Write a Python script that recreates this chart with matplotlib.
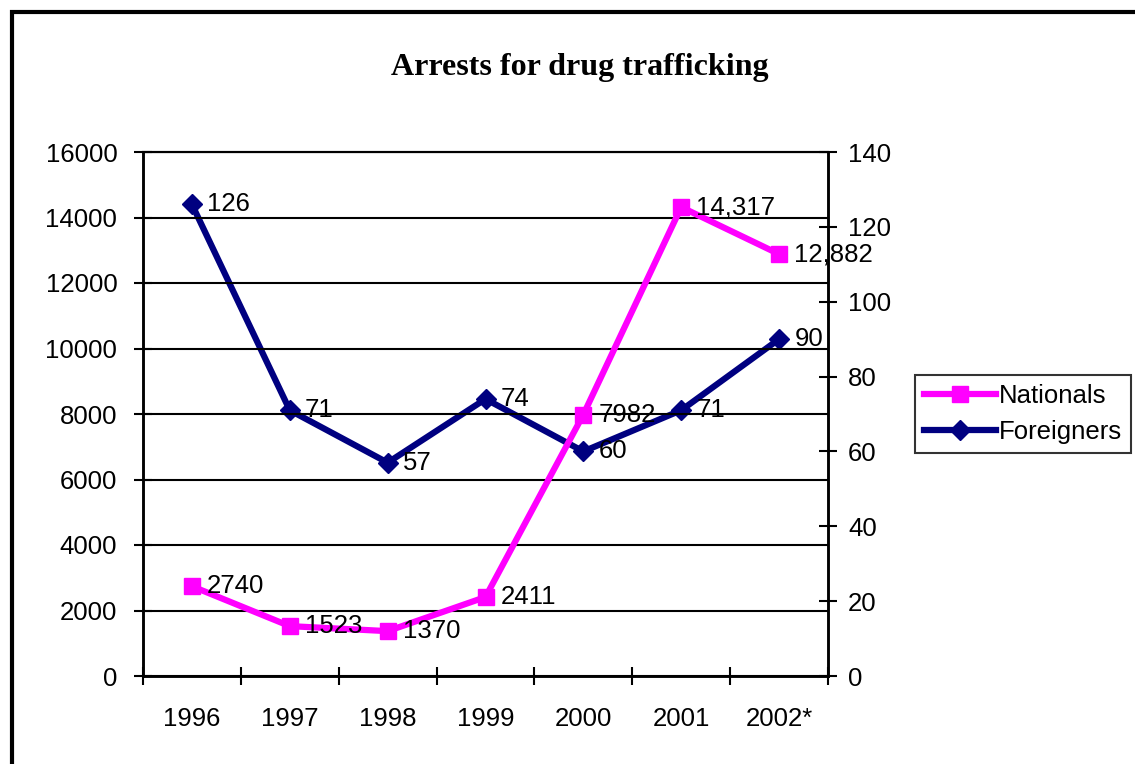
"""Arrests for drug trafficking: nationals (left axis) vs foreigners (right axis)."""
import matplotlib
matplotlib.use("Agg")
import matplotlib.pyplot as plt
from matplotlib.patches import Rectangle

plt.rcParams["font.family"] = ["Liberation Sans", "DejaVu Sans"]

years = ["1996", "1997", "1998", "1999", "2000", "2001", "2002*"]
nationals = [2740, 1523, 1370, 2411, 7982, 14317, 12882]
nationals_lbl = ["2740", "1523", "1370", "2411", "7982", "14,317", "12,882"]
foreigners = [126, 71, 57, 74, 60, 71, 90]

PINK = "#FF00FF"
NAVY = "#000080"
FS = 18.5

fig = plt.figure(figsize=(11.35, 7.64), dpi=100)
ax = fig.add_axes([143 / 1135, 88 / 764, 685 / 1135, 524 / 764])
ax2 = ax.twinx()

x = list(range(len(years)))

ln1, = ax.plot(x, nationals, color=PINK, lw=4.5, marker="s", ms=12,
               mec=PINK, mfc=PINK, zorder=3, label="Nationals")
ln2, = ax2.plot(x, foreigners, color=NAVY, lw=4.5, marker="D", ms=10.5,
                mec=NAVY, mfc=NAVY, zorder=3, label="Foreigners")

for xi, v, s in zip(x, nationals, nationals_lbl):
    ax.annotate(s, (xi, v), xytext=(11, 0), textcoords="offset points",
                ha="left", va="center", fontsize=FS, zorder=5)
for xi, v in zip(x, foreigners):
    ax2.annotate(str(v), (xi, v), xytext=(11, 0), textcoords="offset points",
                 ha="left", va="center", fontsize=FS, zorder=5)

ax.set_xlim(-0.5, len(years) - 0.5)
ax.set_ylim(0, 16000)
ax.set_yticks(range(0, 16001, 2000))
ax2.set_ylim(0, 140)
ax2.set_yticks(range(0, 141, 20))

# category boundaries carry the ticks, centres carry the labels
ax.set_xticks([i - 0.5 for i in range(len(years) + 1)])
ax.set_xticklabels([])
ax.set_xticks(x, minor=True)
ax.set_xticklabels(years, minor=True, fontsize=FS)
ax.tick_params(axis="x", which="major", direction="inout", length=13, width=1.5)
ax.tick_params(axis="x", which="minor", length=0, pad=22)
ax.tick_params(axis="y", direction="inout", length=13, width=1.5, labelsize=FS, pad=12)
ax2.tick_params(axis="y", direction="inout", length=13, width=1.5, labelsize=FS, pad=8)

ax.grid(axis="y", color="black", lw=1.5)
ax.set_axisbelow(True)
for a in (ax, ax2):
    a.spines["top"].set_linewidth(1.5)
    for s in ("left", "right", "bottom"):
        a.spines[s].set_linewidth(1.8)

ax.set_zorder(ax2.get_zorder() + 1)
ax.patch.set_visible(False)

fig.text(580 / 1135, 1 - 68 / 764, "Arrests for drug trafficking",
         ha="center", va="center", fontsize=23, fontweight="bold",
         family="Liberation Serif")

leg = fig.legend([ln1, ln2], ["Nationals", "Foreigners"],
                 loc="center left", bbox_to_anchor=(915 / 1135, 1 - 414 / 764),
                 fontsize=FS, frameon=True, fancybox=False, edgecolor="black",
                 handlelength=2.8, handletextpad=0.1, borderpad=0.35,
                 labelspacing=0.5, borderaxespad=0)
leg.get_frame().set_linewidth(1.5)

fig.patches.append(Rectangle((12 / 1135, -0.1), 1.2, 1 - 12 / 764 + 0.1,
                             transform=fig.transFigure, fill=False,
                             edgecolor="black", lw=3))

fig.savefig("out.png", dpi=100)
